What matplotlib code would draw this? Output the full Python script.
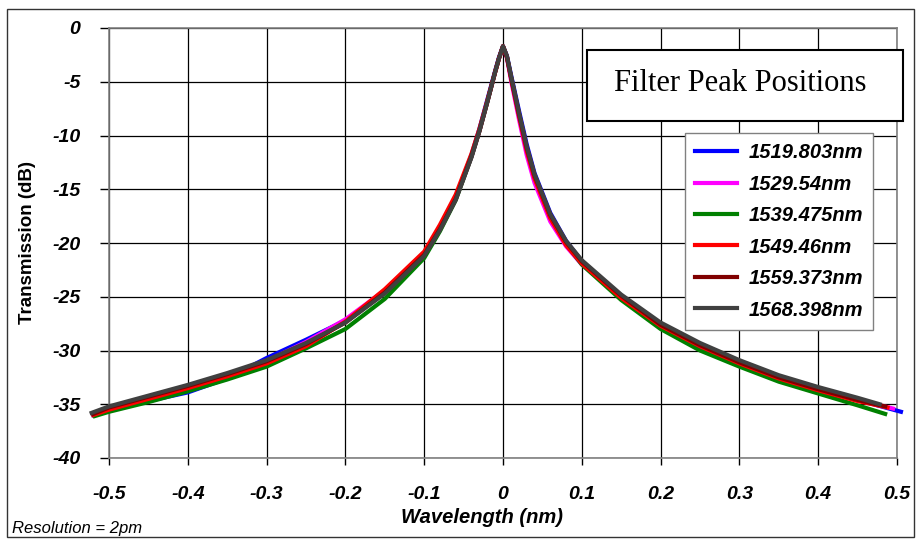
import matplotlib
matplotlib.use("Agg")
import matplotlib.pyplot as plt
from matplotlib.patches import Rectangle

plt.rcParams["axes.unicode_minus"] = False

# wavelength offset from each filter peak (nm)
x_mid = [-0.50, -0.45, -0.40, -0.35, -0.30, -0.25, -0.20, -0.15, -0.10, -0.08,
         -0.06, -0.04, -0.03, -0.02, -0.01, -0.005, 0.0, 0.005, 0.01, 0.02,
         0.03, 0.04, 0.06, 0.08, 0.10, 0.15, 0.20, 0.25, 0.30, 0.35, 0.40, 0.45]

x_blue = [-0.520] + x_mid + [0.505]
x_magenta = [-0.518] + x_mid + [0.495]
x_green = [-0.518] + x_mid + [0.485]
x_red = [-0.520] + x_mid + [0.488]
x_darkred = [-0.520] + x_mid + [0.485]
x_gray = [-0.522] + x_mid + [0.478]

# transmission (dB)
y_blue = [-36.0, -35.5, -34.7, -33.9, -32.6, -30.7, -29.0, -27.2, -24.6, -21.1, -18.7,
          -15.8, -11.8, -9.4, -6.7, -4.0, -2.7, -1.7, -2.6, -4.3, -7.6,
          -10.8, -13.5, -17.2, -19.8, -21.7, -25.0, -27.9, -29.8, -31.0, -32.4, -33.5, -34.6, -35.7]
y_magenta = [-35.9, -35.4, -34.4, -33.4, -32.3, -31.0, -29.2, -27.1, -24.4, -21.0, -18.6,
             -15.9, -12.0, -9.6, -6.9, -4.1, -2.8, -1.7, -2.8, -4.8, -8.4,
             -11.8, -14.4, -18.0, -20.3, -22.0, -25.1, -27.6, -29.5, -31.1, -32.5, -33.6, -34.6, -35.4]
y_green = [-36.1, -35.7, -34.8, -33.8, -32.7, -31.5, -29.8, -28.0, -25.2, -21.4, -18.9,
           -16.0, -12.0, -9.6, -6.9, -4.1, -2.8, -1.7, -2.7, -4.5, -7.9,
           -11.2, -13.8, -17.5, -20.1, -22.0, -25.3, -28.0, -30.0, -31.5, -32.9, -34.0, -35.1, -35.9]
y_red = [-36.0, -35.5, -34.5, -33.5, -32.4, -31.2, -29.6, -27.3, -24.3, -20.8, -18.3,
         -15.5, -11.7, -9.4, -6.8, -4.1, -2.8, -1.7, -2.7, -4.6, -8.1,
         -11.4, -14.0, -17.7, -20.2, -21.9, -25.1, -27.7, -29.6, -31.2, -32.6, -33.7, -34.7, -35.3]
y_darkred = [-35.9, -35.3, -34.3, -33.3, -32.2, -31.0, -29.4, -27.4, -24.6, -21.1, -18.7,
             -15.9, -11.9, -9.6, -6.9, -4.1, -2.8, -1.7, -2.7, -4.5, -7.9,
             -11.1, -13.7, -17.4, -19.9, -21.7, -24.9, -27.6, -29.5, -31.1, -32.5, -33.6, -34.6, -35.2]
y_gray = [-35.8, -35.2, -34.2, -33.2, -32.1, -30.9, -29.3, -27.4, -24.7, -21.2, -18.8,
          -16.0, -12.0, -9.6, -6.9, -4.1, -2.8, -1.7, -2.6, -4.4, -7.8,
          -11.0, -13.6, -17.3, -19.8, -21.6, -24.8, -27.4, -29.3, -30.9, -32.3, -33.4, -34.4, -35.0]

labels = ["1519.803nm", "1529.54nm", "1539.475nm", "1549.46nm", "1559.373nm", "1568.398nm"]
colors = ["#0000ff", "#ff00ff", "#008000", "#ff0000", "#800000", "#404040"]

xticks = [-0.5, -0.4, -0.3, -0.2, -0.1, 0, 0.1, 0.2, 0.3, 0.4, 0.5]
xticklabels = ["-0.5", "-0.4", "-0.3", "-0.2", "-0.1", "0", "0.1", "0.2", "0.3", "0.4", "0.5"]
yticks = [0, -5, -10, -15, -20, -25, -30, -35, -40]

W, H = 917, 539
fig = plt.figure(figsize=(W / 100, H / 100), dpi=100)
ax = fig.add_axes([109 / W, 1 - 458 / H, (897 - 109) / W, (458 - 28) / H])

xs = [x_blue, x_magenta, x_green, x_red, x_darkred, x_gray]
ys = [y_blue, y_magenta, y_green, y_red, y_darkred, y_gray]
for xx, yy, c, lab in zip(xs, ys, colors, labels):
    ax.plot(xx, yy, color=c, lw=3, label=lab, clip_on=False, zorder=3)

ax.set_xlim(-0.5, 0.5)
ax.set_ylim(-40, 0)
ax.set_xticks(xticks)
ax.set_xticklabels(xticklabels)
ax.set_yticks(yticks)
ax.set_yticklabels([str(v) for v in yticks])
ax.grid(True, color="black", lw=0.9)
for s in ax.spines.values():
    s.set_color("#808080")
    s.set_linewidth(1.2)

tickfont = dict(family="Liberation Sans", weight="bold", style="italic", size=14)
for t in ax.get_xticklabels() + ax.get_yticklabels():
    t.set_fontproperties(matplotlib.font_manager.FontProperties(**tickfont))
ax.tick_params(axis="x", direction="out", length=5, width=1, pad=15, color="black")
ax.tick_params(axis="y", direction="out", length=6.5, width=1, pad=14, color="black")

fig.text(28 / W, 1 - 243 / H, "Transmission (dB)", rotation=90, ha="center", va="center",
         family="Liberation Sans", weight="bold", size=13.5)
fig.text(482 / W, 1 - 523 / H, "Wavelength (nm)", ha="center", va="baseline",
         family="Liberation Sans", weight="bold", style="italic", size=14.5)
fig.text(12 / W, 1 - 533 / H, "Resolution = 2pm", ha="left", va="baseline",
         family="Liberation Sans", style="italic", size=12)

# title box
fig.patches.append(Rectangle((587 / W, 1 - 121 / H), (903 - 587) / W, (121 - 50) / H,
                             transform=fig.transFigure, facecolor="white",
                             edgecolor="black", lw=1.5, zorder=5))
fig.text(740 / W, 1 - 91 / H, "Filter Peak Positions", ha="center", va="baseline",
         family="Liberation Serif", size=22, zorder=6)

leg = ax.legend(loc="upper right", bbox_to_anchor=(873 / W, 1 - 133 / H),
                bbox_transform=fig.transFigure, borderaxespad=0, fancybox=False,
                edgecolor="#808080", framealpha=1, handlelength=2.1, handletextpad=0.55,
                labelspacing=0.62, borderpad=0.5,
                prop=dict(family="Liberation Sans", weight="bold", style="italic", size=14.5))
leg.get_frame().set_linewidth(1.0)
for l in leg.get_lines():
    l.set_linewidth(3)

# outer border
fig.patches.append(Rectangle((7 / W, 1 - 537 / H), (914 - 7) / W, (537 - 9) / H,
                             transform=fig.transFigure, fill=False,
                             edgecolor="#333333", lw=1.0))

fig.savefig("out.png", dpi=100)
